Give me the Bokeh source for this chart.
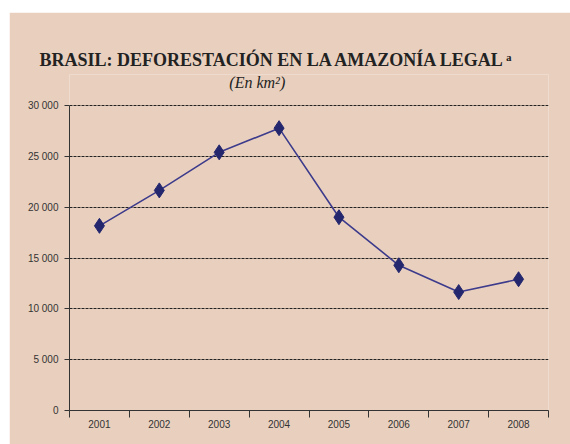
from bokeh.plotting import figure
from bokeh.models import FixedTicker, Title, Range1d, Spacer, Label
from bokeh.layouts import column, row
from bokeh.embed import file_html
from bokeh.resources import INLINE

years = [2001, 2002, 2003, 2004, 2005, 2006, 2007, 2008]
deforestation = [18165, 21651, 25396, 27772, 19014, 14286, 11651, 12911]
y_ticks = [0, 5000, 10000, 15000, 20000, 25000, 30000]
y_tick_labels = ["0", "5 000", "10 000", "15 000", "20 000", "25 000", "30 000"]
x_tick_labels = [str(y) for y in years]

BG = "#e9d0be"
LINE = "#3d3b8c"
MARK = "#24276e"

# frame extends above 30 000 so the subtitle can sit inside it
p = figure(width=561, height=432, output_backend="svg", toolbar_location=None,
           x_range=Range1d(2000.5, 2008.5), y_range=Range1d(0, 33050),
           background_fill_color=BG, border_fill_color=BG,
           min_border_left=60, min_border_right=22, min_border_top=62, min_border_bottom=34)
p.outline_line_color = None

p.line(years, deforestation, line_color=LINE, line_width=1.6)
p.scatter(years, deforestation, marker="diamond", size=15, fill_color=MARK, line_color=MARK)

# y axis
p.yaxis.ticker = FixedTicker(ticks=y_ticks)
p.yaxis.bounds = (y_ticks[0], y_ticks[-1])
p.yaxis.major_label_overrides = {t: l for t, l in zip(y_ticks, y_tick_labels)}
p.yaxis.major_tick_in = 0
p.yaxis.major_tick_out = 5
p.yaxis.minor_tick_line_color = None
p.yaxis.axis_line_color = "#333333"
p.yaxis.major_tick_line_color = "#333333"
p.yaxis.major_label_text_font = "Liberation Sans"
p.yaxis.major_label_text_font_size = "10px"
p.yaxis.major_label_text_color = "#333333"
p.yaxis.major_label_standoff = 6

# x axis
p.xaxis.ticker = FixedTicker(ticks=years, minor_ticks=[y + 0.5 for y in [2000] + years])
p.xaxis.major_label_overrides = {y: l for y, l in zip(years, x_tick_labels)}
p.xaxis.major_tick_line_color = None
p.xaxis.major_tick_out = 7
p.xaxis.major_tick_in = 0
p.xaxis.minor_tick_out = 7
p.xaxis.minor_tick_in = 0
p.xaxis.minor_tick_line_color = "#333333"
p.xaxis.axis_line_color = "#333333"
p.xaxis.major_label_text_font = "Liberation Sans"
p.xaxis.major_label_text_font_size = "10px"
p.xaxis.major_label_text_color = "#333333"
p.xaxis.major_label_standoff = 2

p.xgrid.grid_line_color = None
p.ygrid.grid_line_color = "#222222"
p.ygrid.grid_line_dash = "3 1"
p.ygrid.grid_line_width = 1

main = Title(text="BRASIL: DEFORESTACIÓN EN LA AMAZONÍA LEGAL ᵃ", text_font="Liberation Serif",
             text_font_style="bold", text_font_size="18px", text_color="#222222",
             align="left", offset=-30, standoff=9)
p.add_layout(main, "above")

sub = Label(text="(En km²)", x=2003.17, y=32270,
            text_font="Liberation Serif", text_font_style="italic",
            text_font_size="16px", text_color="#222222", text_baseline="alphabetic")
p.add_layout(sub)

page = column(Spacer(width=570, height=12), row(Spacer(width=9, height=432), p))

open("out.html", "w").write(file_html(page, INLINE))
